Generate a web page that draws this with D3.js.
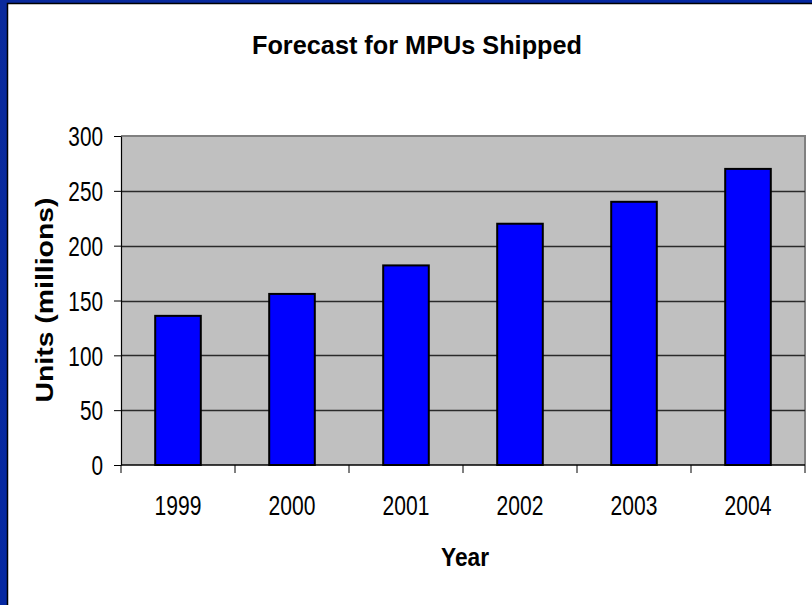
<!DOCTYPE html>
<html>
<head>
<meta charset="utf-8">
<script src="https://cdn.jsdelivr.net/npm/d3@7"></script>
<style>
  html, body { margin: 0; padding: 0; background: #ffffff; }
  svg { display: block; }
  text { font-family: "Liberation Sans", Arial, sans-serif; fill: #000; }
</style>
</head>
<body>
<svg id="chart" width="812" height="605"></svg>
<script>
const years = ["1999", "2000", "2001", "2002", "2003", "2004"];
const units = [136, 156, 182, 220, 240, 270];
const yTicks = [0, 50, 100, 150, 200, 250, 300];
const chartTitle = "Forecast for MPUs Shipped";
const xTitle = "Year";
const yTitle = "Units (millions)";

const svg = d3.select("#chart");
const W = 812, H = 605;

// slide background (blue frame on left/top)
const defs = svg.append("defs");
const grad = defs.append("linearGradient").attr("id", "bg").attr("x1", 0).attr("y1", 0).attr("x2", 1).attr("y2", 1);
grad.append("stop").attr("offset", "0%").attr("stop-color", "#0a2a9c");
grad.append("stop").attr("offset", "100%").attr("stop-color", "#0026a8");
svg.append("rect").attr("width", W).attr("height", H).attr("fill", "url(#bg)");
svg.append("rect").attr("x", 8).attr("y", 4).attr("width", W - 8).attr("height", H - 4).attr("fill", "#ffffff");
svg.append("path").attr("d", `M7.5,${H} V3.5 H${W}`).attr("fill", "none").attr("stroke", "#000").attr("stroke-width", 1.5);

const plot = { left: 121, right: 805, top: 136, bottom: 465 };

const xCat = d3.scaleBand().domain(years).range([plot.left, plot.right]).padding(0);
const xBar = d3.scaleBand().domain(years).range([plot.left, plot.right]).paddingInner(0.6).paddingOuter(0.3);
const y = d3.scaleLinear().domain([0, 300]).range([plot.bottom, plot.top]);

// plot area
svg.append("rect")
  .attr("x", plot.left).attr("y", plot.top)
  .attr("width", plot.right - plot.left).attr("height", plot.bottom - plot.top)
  .attr("fill", "#c0c0c0");
svg.append("path")
  .attr("d", `M${plot.left},${plot.top} H${plot.right} V${plot.bottom}`)
  .attr("fill", "none").attr("stroke", "#808080").attr("stroke-width", 2);

// gridlines
svg.append("g").selectAll("line")
  .data(yTicks.filter(v => v > 0 && v < 300))
  .join("line")
  .attr("x1", plot.left).attr("x2", plot.right)
  .attr("y1", d => Math.round(y(d)) + 0.5).attr("y2", d => Math.round(y(d)) + 0.5)
  .attr("stroke", "#2a2a2a").attr("stroke-width", 1.4);

// bars
svg.append("g").selectAll("rect")
  .data(years.map((yr, i) => ({ yr, v: units[i] })))
  .join("rect")
  .attr("x", d => xBar(d.yr))
  .attr("y", d => y(d.v))
  .attr("width", xBar.bandwidth())
  .attr("height", d => y(0) - y(d.v))
  .attr("fill", "#0000ff")
  .attr("stroke", "#000")
  .attr("stroke-width", 2);

// y axis
const yAxis = svg.append("g")
  .attr("transform", `translate(${plot.left},0)`)
  .call(d3.axisLeft(y).tickValues(yTicks).tickSize(7).tickSizeOuter(0).tickPadding(11));
yAxis.select(".domain").attr("stroke", "#000").attr("stroke-width", 1.2);
yAxis.selectAll(".tick line").attr("stroke", "#000");
yAxis.selectAll(".tick text")
  .attr("font-size", 27)
  .attr("font-family", "'Liberation Sans', Arial, sans-serif")
  .attr("fill", "#000")
  .attr("x", 0)
  .attr("dy", "0.36em")
  .attr("transform", "translate(-18,0) scale(0.77,1)");

// x axis: line + boundary ticks
const xg = svg.append("g");
xg.append("line")
  .attr("x1", plot.left).attr("x2", plot.right)
  .attr("y1", plot.bottom).attr("y2", plot.bottom)
  .attr("stroke", "#000").attr("stroke-width", 1.5);
const bounds = years.map(d => xCat(d)).concat([xCat(years[years.length - 1]) + xCat.bandwidth()]);
xg.selectAll("line.tk")
  .data(bounds)
  .join("line").attr("class", "tk")
  .attr("x1", d => d).attr("x2", d => d)
  .attr("y1", plot.bottom).attr("y2", plot.bottom + 8)
  .attr("stroke", "#000").attr("stroke-width", 1);
xg.selectAll("text")
  .data(years)
  .join("text")
  .attr("transform", d => `translate(${xCat(d) + xCat.bandwidth() / 2},515) scale(0.78,1)`)
  .attr("text-anchor", "middle")
  .attr("font-size", 27)
  .text(d => d);

// titles
svg.append("text")
  .attr("x", 417).attr("y", 54)
  .attr("text-anchor", "middle")
  .attr("font-size", 26).attr("font-weight", "bold")
  .attr("textLength", 330).attr("lengthAdjust", "spacingAndGlyphs")
  .text(chartTitle);

svg.append("text")
  .attr("x", 465).attr("y", 566)
  .attr("text-anchor", "middle")
  .attr("font-size", 26).attr("font-weight", "bold")
  .attr("textLength", 48).attr("lengthAdjust", "spacingAndGlyphs")
  .text(xTitle);

svg.append("text")
  .attr("transform", "translate(53,300) rotate(-90)")
  .attr("text-anchor", "middle")
  .attr("font-size", 24).attr("font-weight", "bold")
  .attr("textLength", 205).attr("lengthAdjust", "spacingAndGlyphs")
  .text(yTitle);
</script>
</body>
</html>
